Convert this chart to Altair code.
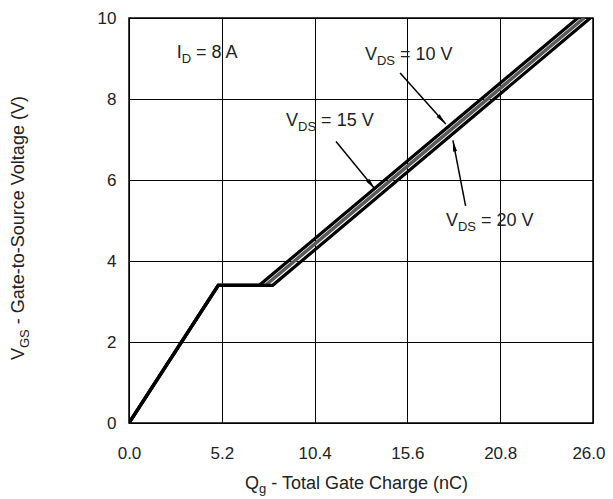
import math
import altair as alt
import pandas as pd

# ---------------- data ----------------
qg_10 = [0.0, 5.0, 7.3, 25.15]
vgs_10 = [0.0, 3.4, 3.4, 10.0]
qg_15 = [0.0, 5.0, 7.65, 25.5]
vgs_15 = [0.0, 3.4, 3.4, 10.0]
qg_20 = [0.0, 5.0, 8.05, 25.85]
vgs_20 = [0.0, 3.4, 3.4, 10.0]

x_ticks = [0.0, 5.2, 10.4, 15.6, 20.8, 26.0]
y_ticks = [0, 2, 4, 6, 8, 10]

label_main = ["I", "V", "V", "V"]
label_sub = ["D", "DS", "DS", "DS"]
label_rest = ["= 8 A", "= 10 V", "= 15 V", "= 20 V"]
label_q = [2.67, 13.22, 8.8, 17.76]
label_v = [9.14, 9.09, 7.46, 4.99]

arrow_q_start = [15.19, 11.6, 18.86]
arrow_v_start = [8.64, 6.95, 5.36]
arrow_q_tip = [17.75, 13.78, 18.15]
arrow_v_tip = [7.38, 5.78, 6.98]

x_title = ["Q", "g", "- Total Gate Charge (nC)"]
y_title = ["V", "GS", "- Gate-to-Source Voltage (V)"]

# ---------------- layout / style ----------------
W, H = 464, 405
FONT = "Liberation Sans"
TXT = "#222222"
FS = 18
SFS = 13
TFS = 18
PX = W / 26.0
PY = H / 10.0

AW = {" ": .278, "-": .333, "=": .584, "(": .333, ")": .333, ".": .278,
      "A": .667, "C": .722, "D": .722, "G": .778, "I": .278, "Q": .778,
      "S": .667, "T": .611, "V": .667, "a": .556, "c": .5, "e": .556,
      "g": .556, "h": .556, "l": .222, "n": .556, "o": .556, "r": .333,
      "t": .278, "u": .556}


def tw(s, size):
    return sum(AW.get(c, 0.556) for c in s) * size


xs = alt.Scale(domain=[0, 26], nice=False, zero=False)
ys = alt.Scale(domain=[0, 10], nice=False, zero=False)

x_axis = alt.Axis(values=x_ticks, format=".1f", title=None, grid=True, ticks=False,
                  domain=False, labelFlush=False, labelOverlap=False,
                  labelAlign={"condition": {"test": "datum.value >= 26", "value": "right"},
                              "value": "center"},
                  labelOffset={"condition": {"test": "datum.value >= 26", "value": 12},
                               "value": 0},
                  labelFontSize=17, labelPadding=22, labelFont=FONT, labelColor=TXT,
                  gridColor="#000000", gridWidth=1, gridOpacity=1)
y_axis = alt.Axis(values=y_ticks, format="d", title=None, grid=True, ticks=False,
                  domain=False, labelFlush=False, labelOverlap=False,
                  labelFontSize=17, labelPadding=13, labelFont=FONT, labelColor=TXT,
                  gridColor="#000000", gridWidth=1, gridOpacity=1)


def X(field):
    return alt.X(field, type="quantitative", scale=xs, axis=x_axis)


def Y(field):
    return alt.Y(field, type="quantitative", scale=ys, axis=y_axis)


layers = []


def line_layer(q, v, color, width):
    df = pd.DataFrame({"q": q, "v": v, "o": list(range(len(q)))})
    return alt.Chart(df).mark_line(color=color, strokeWidth=width, clip=True,
                                   strokeJoin="miter").encode(
        x=X("q"), y=Y("v"), order="o:Q")


layers.append(line_layer(qg_15, vgs_15, "#5a5a5a", 3.5))
layers.append(line_layer(qg_10, vgs_10, "#000000", 3.2))
layers.append(line_layer(qg_20, vgs_20, "#000000", 3.2))

# annotation labels with subscripts
for i in range(len(label_main)):
    row = pd.DataFrame({"q": [label_q[i]], "v": [label_v[i]]})
    base = alt.Chart(row).encode(x=X("q"), y=Y("v"))
    wm = tw(label_main[i], FS)
    wsub = tw(label_sub[i], SFS)
    layers.append(base.mark_text(text=label_main[i], align="left", baseline="middle",
                                 fontSize=FS, font=FONT, color=TXT))
    layers.append(base.mark_text(text=label_sub[i], align="left", baseline="middle",
                                 fontSize=SFS, font=FONT, color=TXT, dx=wm, dy=6))
    layers.append(base.mark_text(text=label_rest[i], align="left", baseline="middle",
                                 fontSize=FS, font=FONT, color=TXT,
                                 dx=wm + wsub + tw(" ", FS)))

# arrows
ARROW = "M0,0L-0.42,2.4L0.42,2.4Z"
for i in range(len(arrow_q_start)):
    df = pd.DataFrame({"q": [arrow_q_start[i]], "v": [arrow_v_start[i]],
                       "q2": [arrow_q_tip[i]], "v2": [arrow_v_tip[i]]})
    layers.append(alt.Chart(df).mark_rule(color="#000000", strokeWidth=1.5).encode(
        x=X("q"), y=Y("v"), x2="q2:Q", y2="v2:Q"))
    dxp = (arrow_q_tip[i] - arrow_q_start[i]) * PX
    dyp = -(arrow_v_tip[i] - arrow_v_start[i]) * PY
    ang = math.degrees(math.atan2(dxp, -dyp)) % 360
    layers.append(alt.Chart(df).mark_point(shape=ARROW, filled=True, color="#000000",
                                           size=90, opacity=1, angle=ang,
                                           strokeWidth=0).encode(
        x=X("q2"), y=Y("v2")))

# axis titles (with subscripts)
one = pd.DataFrame({"a": [0]})
x0, y0 = 116, 466
wq = tw(x_title[0], TFS)
wg = tw(x_title[1], SFS)
layers.append(alt.Chart(one).mark_text(text=x_title[0], align="left", baseline="middle",
                                       fontSize=TFS, font=FONT, color=TXT).encode(
    x=alt.value(x0), y=alt.value(y0)))
layers.append(alt.Chart(one).mark_text(text=x_title[1], align="left", baseline="middle",
                                       fontSize=SFS, font=FONT, color=TXT, dx=wq, dy=5).encode(
    x=alt.value(x0), y=alt.value(y0)))
layers.append(alt.Chart(one).mark_text(text=x_title[2], align="left", baseline="middle",
                                       fontSize=TFS, font=FONT, color=TXT,
                                       dx=wq + wg + tw(" ", TFS)).encode(
    x=alt.value(x0), y=alt.value(y0)))
yx0, yy0 = -110, 342
wv = tw(y_title[0], TFS)
wgs = tw(y_title[1], SFS)
layers.append(alt.Chart(one).mark_text(text=y_title[0], align="left", baseline="middle",
                                       angle=270, fontSize=TFS, font=FONT, color=TXT).encode(
    x=alt.value(yx0), y=alt.value(yy0)))
layers.append(alt.Chart(one).mark_text(text=y_title[1], align="left", baseline="middle",
                                       angle=270, fontSize=SFS, font=FONT, color=TXT,
                                       dx=wv, dy=6).encode(
    x=alt.value(yx0), y=alt.value(yy0)))
layers.append(alt.Chart(one).mark_text(text=y_title[2], align="left", baseline="middle",
                                       angle=270, fontSize=TFS, font=FONT, color=TXT,
                                       dx=wv + wgs + tw(" ", TFS)).encode(
    x=alt.value(yx0), y=alt.value(yy0)))

chart = alt.layer(*layers).properties(
    width=W, height=H,
    autosize=alt.AutoSizeParams(type="none"),
    padding={"left": 121, "top": 10, "right": 12, "bottom": 80},
    background="white",
).configure_view(stroke="#000000", strokeWidth=1.5)

chart.save("out.html", embed_options={"renderer": "svg", "actions": False})
